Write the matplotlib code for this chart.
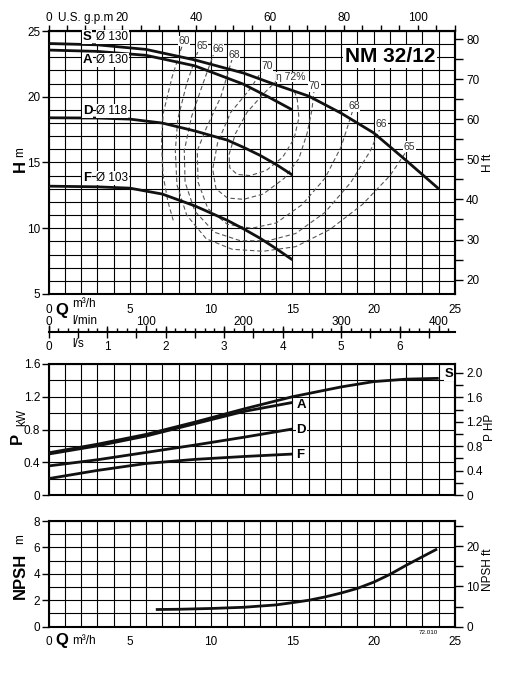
import matplotlib
matplotlib.use("Agg")
import matplotlib.pyplot as plt
from matplotlib.ticker import MultipleLocator, NullFormatter

plt.rcParams['font.family'] = ['Liberation Sans', 'DejaVu Sans']

# ---- head curves (Q m3/h, H m)
q_s = [0, 3, 6, 9, 12, 14, 16, 18, 20, 22, 24]
h_s = [24.05, 23.95, 23.6, 22.8, 21.8, 20.9, 20.05, 18.75, 17.25, 15.15, 13.0]
q_a = [0, 3, 6, 9, 12, 13.5, 15]
h_a = [23.55, 23.45, 23.15, 22.35, 20.95, 20.0, 19.0]
q_d = [0, 3, 5, 7, 9, 11, 12, 13, 14, 15]
h_d = [18.4, 18.38, 18.3, 18.0, 17.4, 16.7, 16.15, 15.55, 14.85, 14.05]
q_f = [0, 3, 5, 7, 9, 11, 12, 13, 14, 15]
h_f = [13.2, 13.15, 13.05, 12.6, 11.7, 10.6, 9.95, 9.25, 8.45, 7.6]

# ---- efficiency contours (Q, H)
eta_60 = [(8.2, 23.8), (7.6, 21.5), (7.05, 18.7), (6.95, 16.5), (7.05, 14.0),
          (7.35, 12.0), (7.67, 10.6)]
eta_65 = [(9.2, 23.5), (8.5, 21.0), (7.95, 18.3), (7.8, 15.9), (7.9, 13.3),
          (8.5, 11.0), (9.7, 9.2), (11.3, 8.4), (13.2, 8.25), (15.2, 8.6),
          (17.3, 9.9), (19.3, 11.8), (21.0, 14.0), (22.2, 16.2)]
eta_66 = [(10.2, 23.4), (9.5, 21.0), (8.8, 18.5), (8.35, 15.9), (8.4, 13.5),
          (9.0, 11.3), (10.2, 9.7), (11.8, 9.05), (13.5, 9.05), (15.2, 9.6),
          (17.0, 11.2), (18.6, 13.5), (19.8, 15.9), (20.5, 17.9)]
eta_68 = [(11.3, 22.9), (10.6, 20.0), (9.7, 17.6), (9.15, 15.9), (9.2, 13.5),
          (9.8, 11.5), (11.0, 10.3), (12.5, 10.0), (14.0, 10.4), (15.6, 11.8),
          (17.0, 13.8), (18.0, 16.2), (18.8, 19.3)]
eta_70 = [(13.2, 22.1), (12.4, 20.6), (11.2, 18.8), (10.4, 16.5), (10.1, 14.5),
          (10.3, 13.0), (11.0, 12.3), (12.0, 12.2), (13.2, 12.6), (14.5, 13.8),
          (15.4, 15.3), (15.9, 17.2), (16.2, 19.0), (16.35, 20.7)]
eta_72 = [(14.1, 21.3), (13.2, 20.2), (12.2, 18.8), (11.5, 17.2), (11.1, 15.6),
          (11.15, 14.6), (11.6, 14.1), (12.4, 14.0), (13.4, 14.4), (14.4, 15.4),
          (15.1, 16.8), (15.4, 18.4), (15.3, 19.8), (15.1, 20.5)]
eta_labels = [('60', 8.34, 24.24), ('65', 9.45, 23.85), ('66', 10.42, 23.6),
              ('68', 11.42, 23.17), ('70', 13.45, 22.33), ('η 72%', 14.9, 21.5),
              ('70', 16.35, 20.8), ('68', 18.8, 19.27), ('66', 20.47, 17.9),
              ('65', 22.2, 16.2)]

# ---- power curves (Q m3/h, P kW)
q_ps = [0, 3, 6, 9, 12, 15, 18, 20, 22, 24]
p_s = [0.515, 0.62, 0.74, 0.89, 1.05, 1.20, 1.32, 1.385, 1.415, 1.425]
q_pa = [0, 3, 6, 9, 12, 15]
p_a = [0.50, 0.60, 0.72, 0.87, 1.02, 1.13]
q_pd = [0, 3, 6, 9, 12, 15]
p_d = [0.355, 0.43, 0.52, 0.61, 0.705, 0.806]
q_pf = [0, 3, 6, 9, 12, 15]
p_f = [0.20, 0.30, 0.385, 0.435, 0.47, 0.50]

# ---- NPSH curve (Q m3/h, NPSH m)
q_n = [6.6, 8, 10, 12, 14, 15, 16, 17, 18, 19, 20, 21, 22, 23, 23.9]
npsh = [1.3, 1.32, 1.38, 1.47, 1.65, 1.82, 2.0, 2.25, 2.55, 2.9, 3.37, 3.96, 4.65, 5.3, 5.88]

W, H = 516, 675
fig = plt.figure(figsize=(W / 100, H / 100), dpi=100)


def px_axes(x0, y0, x1, y1):
    return fig.add_axes([x0 / W, 1 - y1 / H, (x1 - x0) / W, (y1 - y0) / H])


FS = 8.5
SP = 1.5


def style(ax, ymajor, yminor):
    ax.set_xlim(0, 25)
    ax.xaxis.set_major_locator(MultipleLocator(5))
    ax.xaxis.set_minor_locator(MultipleLocator(1))
    ax.yaxis.set_major_locator(MultipleLocator(ymajor))
    ax.yaxis.set_minor_locator(MultipleLocator(yminor))
    ax.grid(which='both', color='black', lw=0.8, zorder=0)
    ax.set_axisbelow(True)
    ax.tick_params(which='minor', length=0)
    ax.tick_params(axis='y', which='major', length=5, width=1, pad=1, labelsize=FS)
    ax.tick_params(axis='x', which='major', length=0, pad=7, labelsize=FS)
    for s in ax.spines.values():
        s.set_linewidth(SP)


# ================= head panel
ax = px_axes(48.5, 31, 455, 294)
style(ax, 5, 1)
ax.set_ylim(5, 25)
box = dict(facecolor='white', edgecolor='none', pad=0.6)
for pts in [eta_60, eta_65, eta_66, eta_68, eta_70, eta_72]:
    ax.plot([p[0] for p in pts], [p[1] for p in pts], color='#555555', lw=0.8,
            dashes=(4, 2.5), zorder=1)
for t, x, y in eta_labels:
    ax.text(x, y, t, fontsize=7.5, color='#333333', ha='center', va='center',
            bbox=dict(facecolor='white', edgecolor='none', pad=0.3), zorder=4)
for q, h in [(q_s, h_s), (q_a, h_a), (q_d, h_d), (q_f, h_f)]:
    ax.plot(q, h, color='#111111', lw=2.0, solid_capstyle='butt', zorder=3)
for letter, dia, y in [('S', 'Ø 130', 24.54), ('A', 'Ø 130', 22.8),
                       ('D', 'Ø 118', 18.9), ('F', 'Ø 103', 13.8)]:
    ax.text(2.1, y, letter, fontsize=9.5, weight='bold', ha='left', va='center',
            bbox=box, zorder=4)
    ax.text(2.95, y, dia, fontsize=8.5, ha='left', va='center', bbox=box, zorder=4)
ax.text(21.0, 23.05, 'NM 32/12', fontsize=15, weight='bold', ha='center',
        va='center', bbox=dict(facecolor='white', edgecolor='none', pad=1.5), zorder=5)

gpm = ax.secondary_xaxis('top', functions=(lambda q: q * 4.40287, lambda g: g / 4.40287))
gpm.xaxis.set_major_locator(MultipleLocator(20))
gpm.xaxis.set_minor_locator(MultipleLocator(5))
gpm.tick_params(which='both', length=4, width=1, pad=1, labelsize=FS)
gpm.spines['top'].set_linewidth(SP)

hft = ax.secondary_yaxis('right', functions=(lambda h: h * 3.28084, lambda f: f / 3.28084))
hft.yaxis.set_major_locator(MultipleLocator(10))
hft.yaxis.set_minor_locator(MultipleLocator(5))
hft.tick_params(which='both', length=6, width=1, pad=2, labelsize=FS)
hft.spines['right'].set_linewidth(SP)

# ================= flow unit scales
ax_l = px_axes(48.5, 332, 455, 332.01)
ax_l.set_xlim(0, 25 * 1000 / 60)
ax_l.set_yticks([])
for k in ['left', 'right', 'top']:
    ax_l.spines[k].set_visible(False)
ax_l.spines['bottom'].set_linewidth(SP)
ax_l.xaxis.set_major_locator(MultipleLocator(100))
ax_l.xaxis.set_minor_locator(MultipleLocator(10))
ax_l.tick_params(axis='x', which='both', direction='in', bottom=True, top=False,
                 labelbottom=False, labeltop=True, pad=3, labelsize=FS, width=1)
ax_l.tick_params(axis='x', which='major', length=5)
ax_l.tick_params(axis='x', which='minor', length=3)

ax_ls = px_axes(48.5, 332, 455, 332.01)
ax_ls.patch.set_visible(False)
ax_ls.set_xlim(0, 25 / 3.6)
ax_ls.set_yticks([])
for s in ax_ls.spines.values():
    s.set_visible(False)
ax_ls.xaxis.set_major_locator(MultipleLocator(1))
ax_ls.xaxis.set_minor_locator(MultipleLocator(0.5))
ax_ls.xaxis.set_minor_formatter(NullFormatter())
ax_ls.tick_params(axis='x', which='major', direction='inout', length=9, width=1,
                  pad=2, labelsize=FS)
ax_ls.tick_params(axis='x', which='minor', direction='out', length=4, width=1)

fig.text(61.5 / W, 1 - 310 / H, 'Q', fontsize=12, weight='bold', ha='center', va='center')
fig.text(72 / W, 1 - 304 / H, 'm³/h', fontsize=FS, ha='left', va='center')
fig.text(72 / W, 1 - 321 / H, 'l/min', fontsize=FS, ha='left', va='center')
fig.text(72 / W, 1 - 344 / H, 'l/s', fontsize=FS, ha='left', va='center')
fig.text(58 / W, 1 - 18 / H, 'U.S. g.p.m', fontsize=FS, ha='left', va='center')

# ================= power panel
axp = px_axes(48.5, 364, 455, 495)
style(axp, 0.4, 0.2)
axp.set_ylim(0, 1.6)
axp.yaxis.set_major_formatter(plt.FuncFormatter(lambda v, p: '0' if v == 0 else f'{v:.1f}'))
axp.tick_params(axis='x', labelbottom=False)
for q, p in [(q_ps, p_s), (q_pa, p_a), (q_pd, p_d), (q_pf, p_f)]:
    axp.plot(q, p, color='#111111', lw=2.0, solid_capstyle='butt', zorder=3)
for t, x, y in [('S', 24.35, 1.478), ('A', 15.25, 1.10), ('D', 15.25, 0.795), ('F', 15.25, 0.49)]:
    axp.text(x, y, t, fontsize=9.5, weight='bold', ha='left', va='center',
             bbox=dict(facecolor='white', edgecolor='none', pad=0.5), zorder=4)
php = axp.secondary_yaxis('right', functions=(lambda p: p / 0.7457, lambda hp: hp * 0.7457))
php.yaxis.set_major_locator(MultipleLocator(0.4))
php.yaxis.set_minor_locator(MultipleLocator(0.2))
php.yaxis.set_major_formatter(plt.FuncFormatter(lambda v, p: '0' if abs(v) < 1e-9 else f'{v:.1f}'))
php.tick_params(which='both', length=6, width=1, pad=2, labelsize=FS)
php.spines['right'].set_linewidth(SP)

# ================= NPSH panel
axn = px_axes(48.5, 521, 455, 626.7)
style(axn, 2, 1)
axn.set_ylim(0, 8)
axn.plot(q_n, npsh, color='#111111', lw=2.0, solid_capstyle='butt', zorder=3)
nft = axn.secondary_yaxis('right', functions=(lambda n: n * 3.28084, lambda f: f / 3.28084))
nft.yaxis.set_major_locator(MultipleLocator(10))
nft.yaxis.set_minor_locator(MultipleLocator(5))
nft.tick_params(which='both', length=6, width=1, pad=2, labelsize=FS)
nft.spines['right'].set_linewidth(SP)

fig.text(61.5 / W, 1 - 640 / H, 'Q', fontsize=12, weight='bold', ha='center', va='center')
fig.text(72 / W, 1 - 641 / H, 'm³/h', fontsize=FS, ha='left', va='center')
fig.text(428 / W, 1 - 633 / H, '72.010', fontsize=4.5, ha='center', va='center')

# ================= axis titles
fig.text(20 / W, 1 - 166 / H, 'H', fontsize=12, weight='bold', rotation=90, ha='center', va='center')
fig.text(20 / W, 1 - 152 / H, 'm', fontsize=FS, rotation=90, ha='center', va='center')
fig.text(17 / W, 1 - 438 / H, 'P', fontsize=12, weight='bold', rotation=90, ha='center', va='center')
fig.text(22 / W, 1 - 418 / H, 'kW', fontsize=FS, rotation=90, ha='center', va='center')
fig.text(20 / W, 1 - 576 / H, 'NPSH', fontsize=12, weight='bold', rotation=90, ha='center', va='center')
fig.text(20 / W, 1 - 539 / H, 'm', fontsize=FS, rotation=90, ha='center', va='center')
fig.text(488 / W, 1 - 163 / H, 'H ft', fontsize=FS, rotation=90, ha='center', va='center')
fig.text(490 / W, 1 - 427 / H, 'P HP', fontsize=FS, rotation=90, ha='center', va='center')
fig.text(488 / W, 1 - 570 / H, 'NPSH ft', fontsize=FS, rotation=90, ha='center', va='center')

fig.savefig('out.png', dpi=100)
